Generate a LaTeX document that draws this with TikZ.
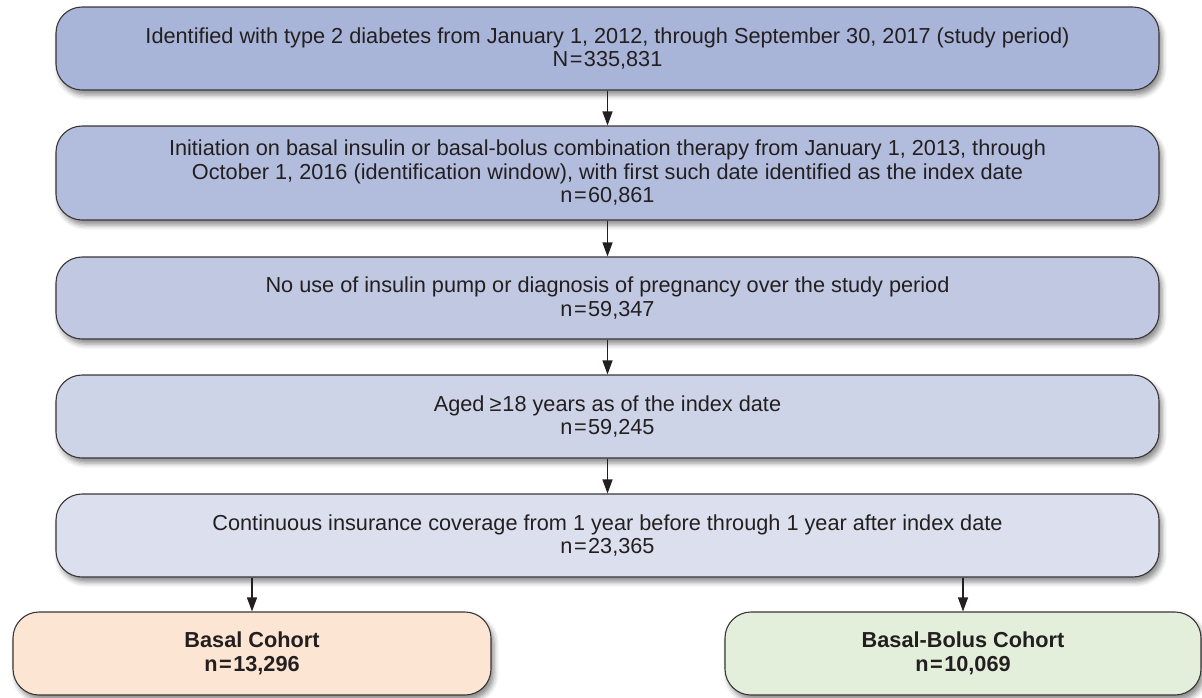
\documentclass[tikz,border=0pt]{standalone}
\usepackage{fontspec}
\setmainfont{Liberation Sans}
\usetikzlibrary{arrows.meta,shadows.blur}
\definecolor{cone}{HTML}{A8B4D8}
\definecolor{ctwo}{HTML}{B2BDDD}
\definecolor{cthree}{HTML}{C0C8E2}
\definecolor{cfour}{HTML}{CED4E8}
\definecolor{cfive}{HTML}{DCE0EE}
\definecolor{cbasal}{HTML}{FCE5D2}
\definecolor{cbolus}{HTML}{E3EFDB}
\definecolor{ink}{HTML}{231F20}
\newcommand{\eqs}{\kern1.5pt=\kern1.5pt}
\tikzset{
  flowbox/.style={draw=ink!90, line width=1.1pt, rounded corners=26pt, inner sep=0pt,
    minimum width=1103pt, align=center, text=ink,
    font=\fontsize{21.7}{23.5}\selectfont,
    blur shadow={shadow xshift=3pt, shadow yshift=-5pt, shadow blur radius=5pt, shadow opacity=45}},
  endbox/.style={flowbox, minimum width=478pt, minimum height=83pt, font=\fontsize{21.7}{24}\selectfont\bfseries},
  flowarrow/.style={draw=ink, line width=1.2pt, -{Triangle[width=10pt,length=14pt]}}
}
\begin{document}
\begin{tikzpicture}
\useasboundingbox (0,0) rectangle (1202pt,-697pt);
\node[flowbox, fill=cone, minimum height=83pt] (b1) at (607.5pt,-48.5pt)
  {Identified with type 2 diabetes from January 1, 2012, through September 30, 2017 (study period)\\N\eqs 335,831};
\node[flowbox, fill=ctwo, minimum height=94pt] (b2) at (607.5pt,-173pt)
  {Initiation on basal insulin or basal-bolus combination therapy from January 1, 2013, through\\October 1, 2016 (identification window), with first such date identified as the index date\\n\eqs 60,861};
\node[flowbox, fill=cthree, minimum height=82pt] (b3) at (607.5pt,-298pt)
  {No use of insulin pump or diagnosis of pregnancy over the study period\\n\eqs 59,347};
\node[flowbox, fill=cfour, minimum height=83pt] (b4) at (607.5pt,-416.5pt)
  {Aged \kern-1pt≥\kern1pt18 years as of the index date\\n\eqs 59,245};
\node[flowbox, fill=cfive, minimum height=83pt] (b5) at (607.5pt,-535.5pt)
  {Continuous insurance coverage from 1 year before through 1 year after index date\\n\eqs 23,365};
\node[endbox, fill=cbasal] (basal) at (252pt,-653.5pt) {Basal Cohort\\n\eqs 13,296};
\node[endbox, fill=cbolus, minimum width=476pt] (bolus) at (963pt,-653.5pt) {Basal-Bolus Cohort\\n\eqs 10,069};
\draw[flowarrow] (b1) -- (b2);
\draw[flowarrow] (b2) -- (b3);
\draw[flowarrow] (b3) -- (b4);
\draw[flowarrow] (b4) -- (b5);
\draw[flowarrow] (basal.north |- b5.south) -- (basal.north);
\draw[flowarrow] (bolus.north |- b5.south) -- (bolus.north);
\end{tikzpicture}
\end{document}
